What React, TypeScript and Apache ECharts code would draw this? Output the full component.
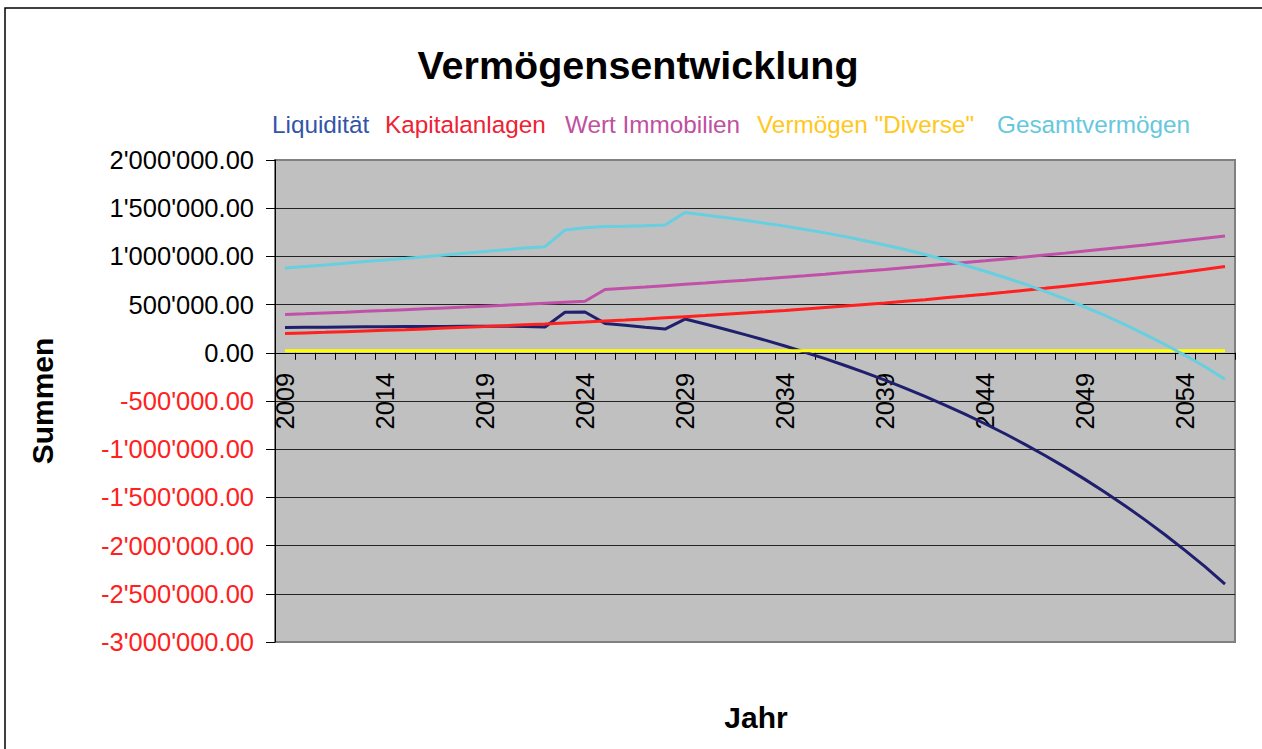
import React, { useEffect, useRef } from "react";
import * as echarts from "echarts";

const years = [
  "2009", "2010", "2011", "2012", "2013", "2014", "2015", "2016", "2017", "2018",
  "2019", "2020", "2021", "2022", "2023", "2024", "2025", "2026", "2027", "2028",
  "2029", "2030", "2031", "2032", "2033", "2034", "2035", "2036", "2037", "2038",
  "2039", "2040", "2041", "2042", "2043", "2044", "2045", "2046", "2047", "2048",
  "2049", "2050", "2051", "2052", "2053", "2054", "2055", "2056",
];

const liquiditaet = [
  262000, 264000, 266000, 268000, 270000, 271000, 272000, 273000, 274000, 275000,
  275000, 275000, 273000, 268000, 420000, 423000, 305000, 285000, 265000, 246000,
  350000, 298000, 245000, 189000, 131000, 70000, 6000, -61000, -132000, -206000,
  -284000, -366000, -452000, -542000, -637000, -736000, -840000, -950000, -1065000, -1186000,
  -1313000, -1446000, -1586000, -1733000, -1887000, -2049000, -2219000, -2400000,
];

const kapitalanlagen = [
  200000, 206000, 212000, 219000, 226000, 233000, 240000, 248000, 256000, 264000,
  272000, 281000, 290000, 299000, 309000, 319000, 330000, 340000, 351000, 363000,
  375000, 387000, 400000, 413000, 426000, 440000, 455000, 470000, 485000, 501000,
  517000, 534000, 551000, 570000, 588000, 607000, 627000, 648000, 669000, 691000,
  713000, 737000, 761000, 786000, 811000, 838000, 866000, 895000,
];

const wertImmobilien = [
  398000, 405000, 413000, 421000, 430000, 438000, 447000, 456000, 465000, 474000,
  484000, 494000, 503000, 514000, 524000, 534000, 656000, 669000, 682000, 696000,
  710000, 724000, 739000, 753000, 768000, 784000, 799000, 815000, 832000, 848000,
  865000, 883000, 900000, 918000, 937000, 955000, 974000, 994000, 1014000, 1034000,
  1055000, 1076000, 1097000, 1119000, 1142000, 1165000, 1188000, 1211000,
];

const vermoegenDiverse = [
  20000, 20000, 20000, 20000, 20000, 20000, 20000, 20000, 20000, 20000,
  20000, 20000, 20000, 20000, 20000, 20000, 20000, 20000, 20000, 20000,
  20000, 20000, 20000, 20000, 20000, 20000, 20000, 20000, 20000, 20000,
  20000, 20000, 20000, 20000, 20000, 20000, 20000, 20000, 20000, 20000,
  20000, 20000, 20000, 20000, 20000, 20000, 20000, 20000,
];

const gesamtvermoegen = [
  880000, 895000, 911000, 928000, 946000, 962000, 979000, 997000, 1015000, 1033000,
  1051000, 1070000, 1086000, 1101000, 1273000, 1296000, 1311000, 1314000, 1318000, 1325000,
  1455000, 1429000, 1404000, 1375000, 1345000, 1314000, 1280000, 1244000, 1205000, 1163000,
  1118000, 1071000, 1019000, 966000, 908000, 846000, 781000, 712000, 638000, 559000,
  475000, 387000, 292000, 192000, 86000, -26000, -145000, -274000,
];

const seriesNames = [
  "Liquidität",
  "Kapitalanlagen",
  "Wert Immobilien",
  'Vermögen "Diverse"',
  "Gesamtvermögen",
];
const seriesData = [liquiditaet, kapitalanlagen, wertImmobilien, vermoegenDiverse, gesamtvermoegen];

const lineColors = ["#1f1f6e", "#ff2020", "#c050a8", "#ffff00", "#66cfe0"];
const legendColors = ["#3355a8", "#ee2233", "#c050a0", "#ffc820", "#66c8dd"];
const legendLefts = [267, 380, 560, 752, 992];

const Y_MIN = -3000000;
const Y_MAX = 2000000;
const GRID_TOP = 160;
const GRID_BOTTOM = 107;
const CHART_H = 749;

const FONT = "'Liberation Sans', Arial, Helvetica, sans-serif";

function fmt(v: number): string {
  const neg = v < 0;
  const abs = Math.abs(v);
  const intPart = Math.floor(abs).toString().replace(/\B(?=(\d{3})+(?!\d))/g, "'");
  return (neg ? "-" : "") + intPart + ".00";
}

export default function App() {
  const ref = useRef<HTMLDivElement>(null);

  useEffect(() => {
    if (!ref.current) return;
    const chart = echarts.init(ref.current, undefined, { renderer: "svg" });

    const splitColors = ["#808080", "#222", "#222", "#222", "#222", "#222", "#222", "#222", "#222", "#222", "#808080"];

    // distance from the grid bottom to the zero line, so the category axis sits on zero
    const plotH = CHART_H - GRID_TOP - GRID_BOTTOM;
    const zeroOffset = (plotH * (0 - Y_MIN)) / (Y_MAX - Y_MIN);

    chart.setOption({
      animation: false,
      backgroundColor: "#ffffff",
      title: {
        text: "Vermögensentwicklung",
        left: 638,
        top: 45,
        textAlign: "center",
        padding: 0,
        textStyle: {
          fontFamily: FONT,
          fontSize: 39.5,
          fontWeight: "bold",
          color: "#000",
          lineHeight: 40,
        },
      },
      legend: seriesNames.map((name, i) => ({
        data: [{ name, textStyle: { color: legendColors[i] } }],
        left: legendLefts[i],
        top: 112,
        padding: 0,
        icon: "rect",
        itemWidth: 0,
        itemHeight: 0,
        selectedMode: false,
        textStyle: {
          fontFamily: FONT,
          fontSize: 24.3,
          color: legendColors[i],
          lineHeight: 24,
        },
      })),
      grid: {
        left: 275,
        right: 27,
        top: GRID_TOP,
        bottom: GRID_BOTTOM,
        show: true,
        backgroundColor: "#c0c0c0",
        borderColor: "#808080",
        borderWidth: 2,
      },
      xAxis: {
        type: "category",
        data: years,
        boundaryGap: true,
        position: "bottom",
        offset: -zeroOffset,
        axisLine: { onZero: false, lineStyle: { color: "#000", width: 1 } },
        axisTick: { show: true, interval: 0, length: 7, lineStyle: { color: "#000", width: 1 } },
        axisLabel: {
          interval: 4,
          rotate: 90,
          margin: 20,
          fontFamily: FONT,
          fontSize: 25.5,
          color: "#000",
        },
        splitLine: { show: false },
      },
      yAxis: {
        type: "value",
        min: Y_MIN,
        max: Y_MAX,
        interval: 500000,
        axisLine: { show: true, lineStyle: { color: "#000", width: 1 } },
        axisTick: { show: true, length: 9, lineStyle: { color: "#000", width: 1 } },
        axisLabel: {
          margin: 21,
          fontFamily: FONT,
          fontSize: 25.5,
          formatter: (v: number) => fmt(v),
          color: (v: any) => (Number(v) < 0 ? "#ff2020" : "#000"),
        },
        splitLine: { show: true, lineStyle: { color: splitColors, width: 1 } },
      },
      series: seriesNames.map((name, i) => ({
        name,
        type: "line",
        data: seriesData[i],
        showSymbol: false,
        symbol: "none",
        lineStyle: { color: lineColors[i], width: 3 },
        itemStyle: { color: lineColors[i] },
        emphasis: { disabled: true },
      })),
      graphic: [
        {
          type: "rect",
          shape: { x: 5, y: 8, width: 1400, height: 900 },
          style: { fill: "none", stroke: "#000", lineWidth: 1.5 },
          silent: true,
          z: -10,
        },
        {
          type: "text",
          x: 42,
          y: 401,
          rotation: Math.PI / 2,
          style: {
            text: "Summen",
            fontFamily: FONT,
            fontSize: 30,
            fontWeight: "bold",
            fill: "#000",
            align: "center",
            verticalAlign: "middle",
          },
        },
        {
          type: "text",
          x: 756,
          y: 717,
          style: {
            text: "Jahr",
            fontFamily: FONT,
            fontSize: 30,
            fontWeight: "bold",
            fill: "#000",
            align: "center",
            verticalAlign: "middle",
          },
        },
      ],
    });

    return () => {
      chart.dispose();
    };
  }, []);

  return (
    <div
      ref={ref}
      style={{ position: "fixed", left: 0, top: 0, width: 1262, height: 749 }}
    />
  );
}
